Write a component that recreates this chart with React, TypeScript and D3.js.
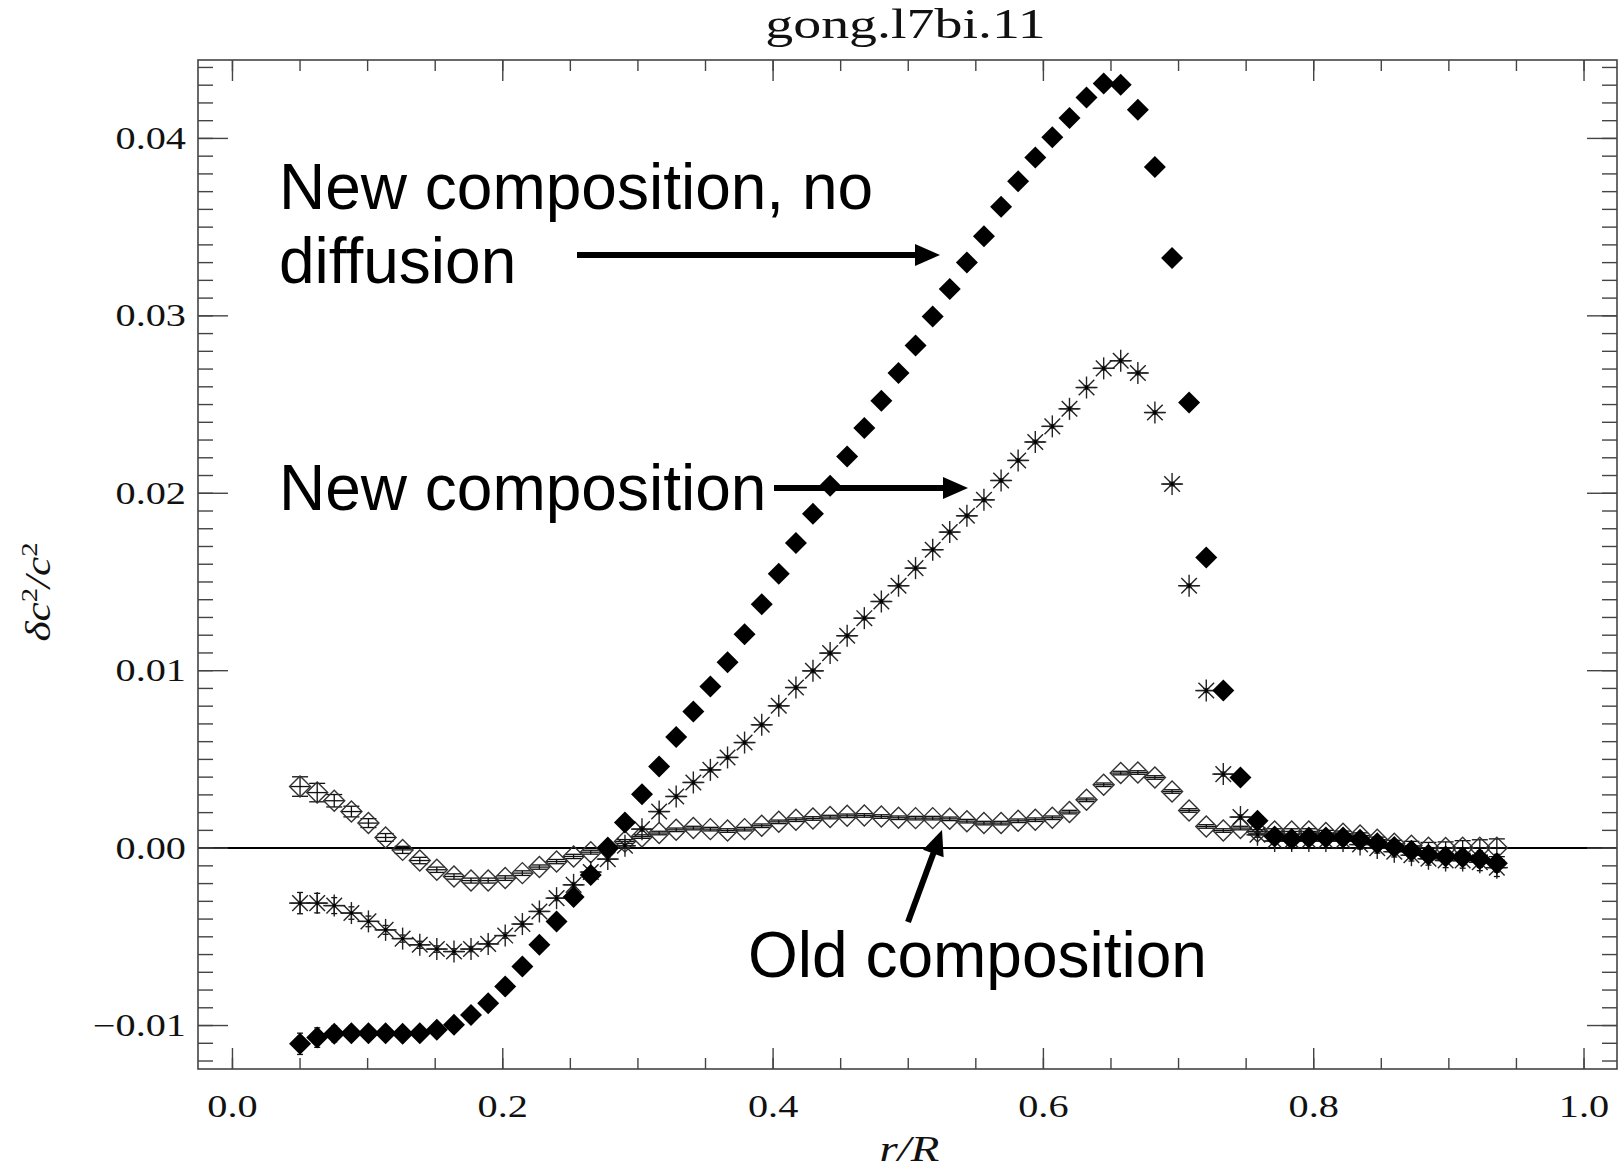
import React from "react";
import * as d3 from "d3";

const title = "gong.l7bi.11";
const xLabel = "r/R";

const radius = [
  0.0500, 0.0627, 0.0753, 0.0880, 0.1006, 0.1133, 0.1259, 0.1386, 0.1512, 0.1639,
  0.1765, 0.1892, 0.2018, 0.2145, 0.2271, 0.2398, 0.2524, 0.2651, 0.2777, 0.2904,
  0.3030, 0.3157, 0.3283, 0.3410, 0.3536, 0.3663, 0.3789, 0.3916, 0.4042, 0.4169,
  0.4295, 0.4422, 0.4548, 0.4675, 0.4801, 0.4928, 0.5054, 0.5181, 0.5307, 0.5434,
  0.5560, 0.5687, 0.5813, 0.5940, 0.6066, 0.6193, 0.6319, 0.6446, 0.6572, 0.6699,
  0.6825, 0.6952, 0.7078, 0.7205, 0.7331, 0.7458, 0.7584, 0.7711, 0.7837, 0.7964,
  0.8090, 0.8217, 0.8343, 0.8470, 0.8596, 0.8723, 0.8849, 0.8976, 0.9102, 0.9229,
  0.9355,
];

// radial resolution half-width (horizontal bars)
const radialHalfWidth = 0.0072;

// New composition, no diffusion (filled diamonds)
const noDiffusion = [
  -0.01103, -0.01068, -0.01047, -0.01043, -0.01043, -0.01043, -0.01047, -0.01043, -0.01024, -0.00996,
  -0.0094, -0.00874, -0.0078, -0.00667, -0.00545, -0.00414, -0.00276, -0.00151, 0.0, 0.00144,
  0.00304, 0.0046, 0.00626, 0.0077, 0.00911, 0.01048, 0.01206, 0.01375, 0.01546, 0.01719,
  0.01884, 0.02042, 0.02207, 0.02368, 0.02521, 0.02678, 0.02833, 0.02997, 0.03151, 0.03301,
  0.03448, 0.03615, 0.03758, 0.03893, 0.04006, 0.04115, 0.0423, 0.04309, 0.04303, 0.04162,
  0.03839, 0.03326, 0.02512, 0.01638, 0.00888, 0.00398, 0.00154, 0.00065, 0.00052, 0.0006,
  0.0006, 0.0006, 0.00047, 0.00028, 0.00006, -0.00015, -0.00038, -0.00047, -0.00051, -0.00062,
  -0.00085,
];

// New composition (asterisks)
const newComp = [
  -0.0031, -0.0031, -0.00324, -0.00366, -0.00413, -0.00461, -0.0051, -0.00545, -0.00569, -0.00583,
  -0.00569, -0.0054, -0.00493, -0.00428, -0.00357, -0.00282, -0.00207, -0.00135, -0.00062, 0.00013,
  0.00107, 0.00206, 0.00291, 0.0037, 0.00441, 0.00511, 0.00595, 0.00695, 0.00802, 0.00905,
  0.00999, 0.01099, 0.01197, 0.01296, 0.0139, 0.01479, 0.01578, 0.01682, 0.01781, 0.01873,
  0.01963, 0.02072, 0.02185, 0.02289, 0.02377, 0.02476, 0.02596, 0.02704, 0.02747, 0.02678,
  0.02455, 0.02052, 0.01479, 0.00888, 0.00417, 0.00175, 0.00075, 0.0004, 0.0004, 0.0004,
  0.0004, 0.0004, 0.0002, 0.0, -0.0002, -0.0004, -0.0006, -0.0007, -0.0007, -0.0008,
  -0.0011,
];

// Old composition (open diamonds)
const oldComp = [
  0.00347, 0.00313, 0.00267, 0.00206, 0.00141, 0.0006, -0.0001, -0.0007, -0.00122, -0.0016,
  -0.00183, -0.00183, -0.00169, -0.00141, -0.00107, -0.00076, -0.00047, -0.00023, 0.0, 0.00037,
  0.00065, 0.00085, 0.00103, 0.00113, 0.00107, 0.00099, 0.00107, 0.00126, 0.00148, 0.0016,
  0.00167, 0.00175, 0.00182, 0.00184, 0.00178, 0.00171, 0.00169, 0.00169, 0.00165, 0.00152,
  0.00141, 0.00141, 0.00154, 0.0016, 0.00171, 0.00203, 0.00272, 0.00357, 0.00423, 0.00426,
  0.00398, 0.00319, 0.00212, 0.00122, 0.00099, 0.00113, 0.00094, 0.00094, 0.00094, 0.00094,
  0.00085, 0.00081, 0.00071, 0.00047, 0.00024, 0.00013, 0.00002, 0.0, 0.00002, 0.00002,
  0.00002,
];

// error bars
const newCompErr = [
  0.0006, 0.00055, 0.00045, 0.00035, 0.0003, 0.00025, 0.0002, 0.0002, 0.00018, 0.00016,
  0.00015, 0.00015, 0.00015, 0.00015, 0.00014, 0.00014, 0.00013, 0.00013, 0.00012, 0.00012,
  0.00012, 0.00012, 0.00011, 0.00011, 0.00011, 0.0001, 0.0001, 0.0001, 0.0001, 0.0001,
  0.0001, 0.0001, 0.0001, 0.0001, 0.0001, 0.0001, 0.0001, 0.0001, 0.0001, 0.0001,
  0.0001, 0.0001, 0.0001, 0.0001, 0.0001, 0.0001, 0.0001, 0.0001, 0.0001, 0.0001,
  0.0001, 0.0001, 0.0001, 0.00011, 0.00012, 0.00013, 0.00014, 0.00015, 0.00017, 0.00019,
  0.00021, 0.00023, 0.00025, 0.00028, 0.0003, 0.00033, 0.00036, 0.0004, 0.00043, 0.00047,
  0.0005,
];
const oldCompErr = [
  0.00055, 0.00052, 0.00035, 0.0003, 0.00025, 0.00022, 0.0002, 0.00018, 0.00015, 0.00015,
  0.00014, 0.00014, 0.00013, 0.00013, 0.00012, 0.00012, 0.00012, 0.00011, 0.00011, 0.00011,
  0.0001, 0.0001, 0.0001, 0.0001, 0.0001, 0.0001, 0.0001, 0.0001, 0.0001, 0.0001,
  0.0001, 0.0001, 0.0001, 0.0001, 0.0001, 0.0001, 0.0001, 0.0001, 0.0001, 0.0001,
  0.0001, 0.0001, 0.0001, 0.0001, 0.0001, 0.0001, 0.0001, 0.0001, 0.0001, 0.0001,
  0.0001, 0.0001, 0.0001, 0.0001, 0.0001, 0.0001, 0.0001, 0.00015, 0.00015, 0.00015,
  0.00015, 0.00015, 0.00015, 0.00015, 0.0002, 0.00025, 0.0003, 0.00035, 0.0004, 0.00045,
  0.0005,
];

const xTicks = [0, 0.2, 0.4, 0.6, 0.8, 1.0];
const xTickLabels = ["0.0", "0.2", "0.4", "0.6", "0.8", "1.0"];
const yTicks = [-0.01, 0, 0.01, 0.02, 0.03, 0.04];
const yTickLabels = ["\u22120.01", "0.00", "0.01", "0.02", "0.03", "0.04"];

const annotationLines = ["New composition, no", "diffusion", "New composition", "Old composition"];

const W = 1624;
const H = 1171;
const L = 198, R = 1617, T = 60, B = 1069;
const SERIF = "'Liberation Serif', 'Times New Roman', serif";
const SANS = "'Liberation Sans', Arial, sans-serif";
const SX = 1.3;

function Arrow({ x1, y1, x2, y2 }: { x1: number; y1: number; x2: number; y2: number }) {
  const ang = Math.atan2(y2 - y1, x2 - x1);
  const hl = 25, hw = 11;
  const bx = x2 - hl * Math.cos(ang), by = y2 - hl * Math.sin(ang);
  const px = -Math.sin(ang), py = Math.cos(ang);
  const pts = [[x2, y2], [bx + px * hw, by + py * hw], [bx - px * hw, by - py * hw]];
  return (
    <g>
      <line x1={x1} y1={y1} x2={bx + 2 * Math.cos(ang)} y2={by + 2 * Math.sin(ang)} stroke="#000" strokeWidth={6} />
      <polygon points={pts.map((p) => p.join(",")).join(" ")} fill="#000" />
    </g>
  );
}

export default function App() {
  const x = d3.scaleLinear().domain([-0.0255, 1.0244]).range([L, R]);
  const y = d3.scaleLinear().domain([-0.01245, 0.04442]).range([B, T]);

  const xMinor = d3.range(0, 20.5).map((k) => k * 0.05).filter((v) => v <= 1.0001);
  const yMinor = d3.range(-12, 45).map((k) => k * 0.001);

  const fd = 11; // filled diamond half size
  const od = 10.5; // open diamond half size

  const diamond = (cx: number, cy: number, s: number) =>
    `M${cx},${cy - s}L${cx + s},${cy}L${cx},${cy + s}L${cx - s},${cy}Z`;

  const errBar = (r: number, v: number, e: number, cap: number, key: string, hbar: boolean) => {
    const cx = x(r);
    const y1 = y(v + e), y2 = y(v - e), yc = y(v);
    return (
      <g key={key} stroke="#111" strokeWidth={1.3}>
        <line x1={cx} x2={cx} y1={y1} y2={y2} />
        <line x1={cx - cap} x2={cx + cap} y1={y1} y2={y1} />
        <line x1={cx - cap} x2={cx + cap} y1={y2} y2={y2} />
        {hbar && <line x1={x(r - radialHalfWidth)} x2={x(r + radialHalfWidth)} y1={yc} y2={yc} />}
      </g>
    );
  };

  const ast = 11, astd = 7.8;

  return (
    <svg width={W} height={H} style={{ position: "absolute", left: 0, top: 0, background: "#fff" }}>
      <rect x={0} y={0} width={W} height={H} fill="#fff" />

      {/* title */}
      <text transform={`translate(${(L + R) / 2 - 2},38) scale(${SX},1)`} textAnchor="middle" fontFamily={SERIF} fontSize={43} fill="#111">
        {title}
      </text>

      {/* zero line */}
      <line x1={L} x2={R} y1={y(0)} y2={y(0)} stroke="#000" strokeWidth={2} />

      {/* old composition: open diamonds */}
      {oldComp.map((v, i) => errBar(radius[i], v, oldCompErr[i], 8, `oe${i}`, true))}
      {oldComp.map((v, i) => (
        <path key={`od${i}`} d={diamond(x(radius[i]), y(v), od)} fill="none" stroke="#333" strokeWidth={1.4} />
      ))}

      {/* new composition: asterisks */}
      {newComp.map((v, i) => errBar(radius[i], v, newCompErr[i], 3, `ne${i}`, true))}
      {newComp.map((v, i) => {
        const cx = x(radius[i]), cy = y(v);
        return (
          <g key={`as${i}`} stroke="#222" strokeWidth={1.4}>
            <line x1={cx - ast} x2={cx + ast} y1={cy} y2={cy} />
            <line x1={cx} x2={cx} y1={cy - ast} y2={cy + ast} />
            <line x1={cx - astd} x2={cx + astd} y1={cy - astd} y2={cy + astd} />
            <line x1={cx - astd} x2={cx + astd} y1={cy + astd} y2={cy - astd} />
            <rect x={cx - 1.6} y={cy - 1.6} width={3.2} height={3.2} fill="#000" stroke="none" />
          </g>
        );
      })}

      {/* no diffusion: filled diamonds */}
      {noDiffusion.map((v, i) => errBar(radius[i], v, newCompErr[i], 3, `fe${i}`, false))}
      {noDiffusion.map((v, i) => (
        <path key={`fd${i}`} d={diamond(x(radius[i]), y(v), fd)} fill="#000" stroke="none" />
      ))}

      {/* frame */}
      <rect x={L} y={T} width={R - L} height={B - T} fill="none" stroke="#444" strokeWidth={1.6} />

      {/* x ticks */}
      {xMinor.map((v, i) => (
        <g key={`xm${i}`} stroke="#444" strokeWidth={1.4}>
          <line x1={x(v)} x2={x(v)} y1={B} y2={B - 11} />
          <line x1={x(v)} x2={x(v)} y1={T} y2={T + 11} />
        </g>
      ))}
      {xTicks.map((v, i) => (
        <g key={`xt${i}`}>
          <line x1={x(v)} x2={x(v)} y1={B} y2={B - 21} stroke="#444" strokeWidth={1.4} />
          <line x1={x(v)} x2={x(v)} y1={T} y2={T + 21} stroke="#444" strokeWidth={1.4} />
          <text transform={`translate(${x(v)},1117) scale(${SX},1)`} textAnchor="middle" fontFamily={SERIF} fontSize={31} fill="#111">
            {xTickLabels[i]}
          </text>
        </g>
      ))}

      {/* y ticks */}
      {yMinor.map((v, i) => (
        <g key={`ym${i}`} stroke="#444" strokeWidth={1.4}>
          <line x1={L} x2={L + 15} y1={y(v)} y2={y(v)} />
          <line x1={R} x2={R - 15} y1={y(v)} y2={y(v)} />
        </g>
      ))}
      {yTicks.map((v, i) => (
        <g key={`yt${i}`}>
          <line x1={L} x2={L + 30} y1={y(v)} y2={y(v)} stroke="#444" strokeWidth={1.4} />
          <line x1={R} x2={R - 30} y1={y(v)} y2={y(v)} stroke="#444" strokeWidth={1.4} />
          <text transform={`translate(186,${y(v) + 10.5}) scale(${SX},1)`} textAnchor="end" fontFamily={SERIF} fontSize={31} fill="#111">
            {yTickLabels[i]}
          </text>
        </g>
      ))}

      {/* axis labels */}
      <text transform={`translate(${(L + R) / 2 + 2},1161) scale(${SX},1)`} textAnchor="middle" fontFamily={SERIF} fontStyle="italic" fontSize={36} fill="#111">
        {xLabel}
      </text>
      <text transform={`translate(50,592) rotate(-90) scale(1.2,1)`} textAnchor="middle" fontFamily={SERIF} fontStyle="italic" fontSize={36} fill="#111">
        δc<tspan dy={-13} fontSize={24} fontStyle="normal">2</tspan>
        <tspan dy={13}>/c</tspan>
        <tspan dy={-13} fontSize={24} fontStyle="normal">2</tspan>
      </text>

      {/* annotations */}
      <text x={279} y={209} fontFamily={SANS} fontSize={64} fill="#000">{annotationLines[0]}</text>
      <text x={279} y={283} fontFamily={SANS} fontSize={64} fill="#000">{annotationLines[1]}</text>
      <text x={279} y={510} fontFamily={SANS} fontSize={64} fill="#000">{annotationLines[2]}</text>
      <text x={748} y={977} fontFamily={SANS} fontSize={64} fill="#000">{annotationLines[3]}</text>

      <Arrow x1={577} y1={255} x2={940} y2={255} />
      <Arrow x1={774} y1={488} x2={968} y2={488} />
      <Arrow x1={908} y1={922} x2={942} y2={830} />
    </svg>
  );
}
